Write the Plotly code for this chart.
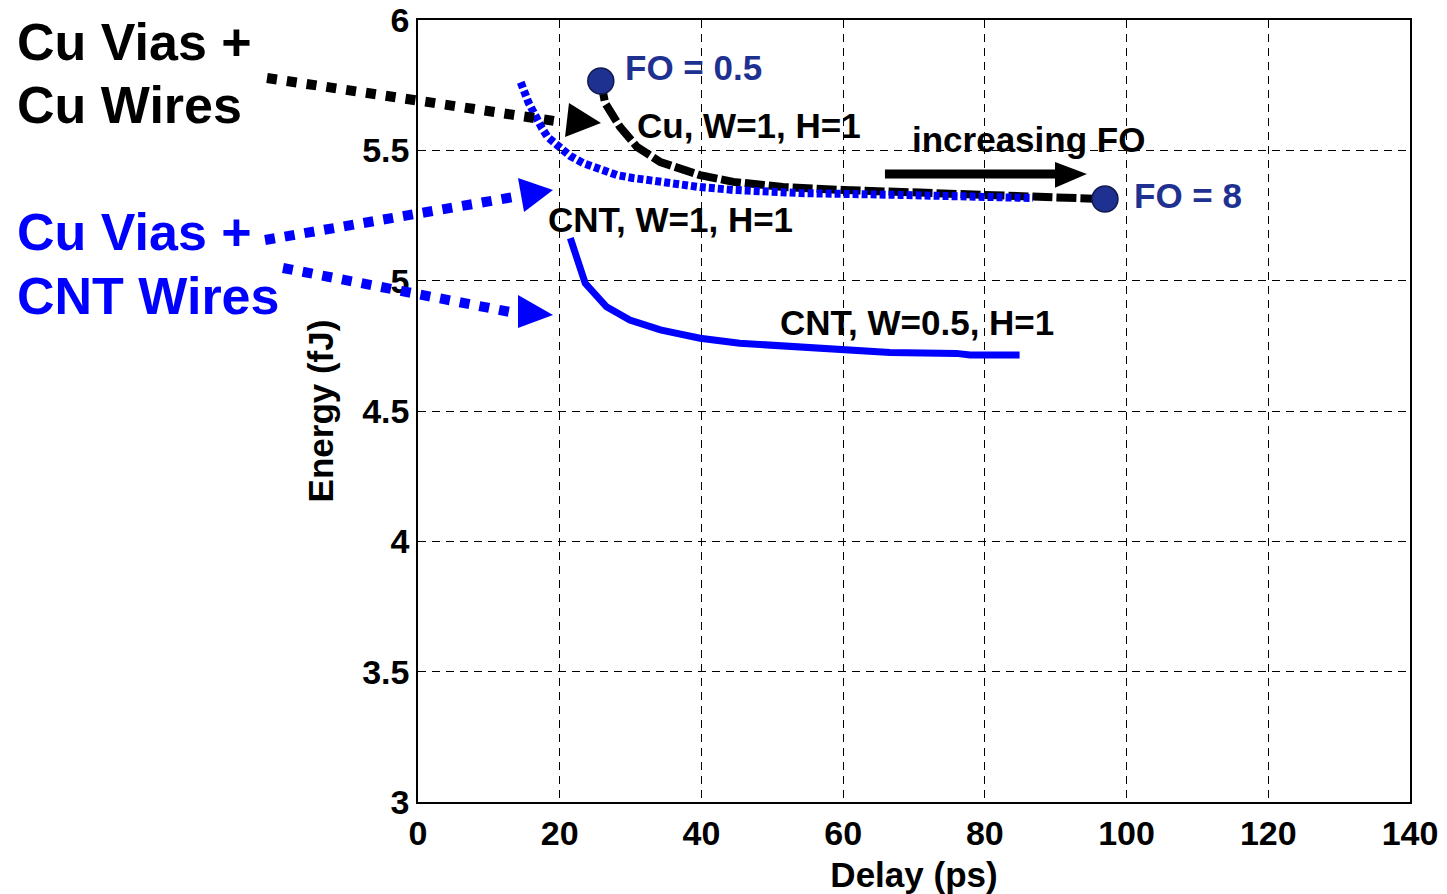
import plotly.graph_objects as go

# Delay (ps) / energy (fJ) sweeps over fan-out
cu_delay = [25.8, 26.4, 28.5, 30.9, 34.2, 39.8, 44.5, 51.5, 60.0, 68.0, 77.5, 86.8, 96.95]
cu_energy = [5.766, 5.682, 5.590, 5.513, 5.455, 5.405, 5.379, 5.359, 5.348, 5.340, 5.329, 5.317, 5.313]

cnt_w1_delay = [14.5, 15.6, 17.5, 18.3, 20.3, 21.5, 23.3, 25.7, 28.1, 30.3, 35.1, 39.8,
                44.5, 49.3, 53.9, 68.0, 86.8]
cnt_w1_energy = [5.761, 5.683, 5.585, 5.551, 5.505, 5.478, 5.451, 5.425, 5.405, 5.394, 5.375,
                 5.359, 5.348, 5.340, 5.336, 5.329, 5.317]

cnt_w05_delay = [21.5, 22.4, 23.6, 26.6, 29.9, 34.2, 39.8, 45.4, 52.5, 59.6, 66.6, 76.0, 77.9, 84.9]
cnt_w05_energy = [5.163, 5.092, 4.990, 4.900, 4.849, 4.811, 4.779, 4.760, 4.747, 4.734,
                  4.724, 4.721, 4.715, 4.715]

# Fan-out end points
fo_labels = ["FO = 0.5", "FO = 8"]
fo_delay = [cu_delay[0], cu_delay[-1]]
fo_energy = [cu_energy[0], cu_energy[-1]]

x_ticks = [0, 20, 40, 60, 80, 100, 120, 140]
y_ticks = [3, 3.5, 4, 4.5, 5, 5.5, 6]

FONT = "Liberation Sans, Arial, sans-serif"
BLUE = "#0000ff"
NAVY = "#1f3190"

fig = go.Figure()

fig.add_trace(go.Scatter(x=cu_delay, y=cu_energy, mode="lines",
                         line=dict(color="black", width=8, dash="20px,4px"),
                         showlegend=False))
fig.add_trace(go.Scatter(x=cnt_w1_delay, y=cnt_w1_energy, mode="lines",
                         line=dict(color=BLUE, width=8, dash="6px,3px"),
                         showlegend=False))
fig.add_trace(go.Scatter(x=cnt_w05_delay, y=cnt_w05_energy, mode="lines",
                         line=dict(color=BLUE, width=7),
                         showlegend=False))
fig.add_trace(go.Scatter(x=fo_delay, y=fo_energy, mode="markers",
                         marker=dict(size=26, color=NAVY, line=dict(color="#101a50", width=1.5)),
                         showlegend=False))

def ann(text, x, y, color="black", size=35, **kw):
    kw.setdefault("xanchor", "center")
    fig.add_annotation(text=f"<b>{text}</b>", x=x, y=y, showarrow=False, yanchor="middle",
                       font=dict(family=FONT, size=size, color=color), **kw)

# Labels inside the plot
ann(fo_labels[0], 38.9, 5.816, NAVY)
ann(fo_labels[1], 108.7, 5.325, NAVY)
ann("Cu, W=1, H=1", 46.7, 5.597)
ann("increasing FO", 86.2, 5.540)
ann("CNT, W=1, H=1", 35.6, 5.233)
ann("CNT, W=0.5, H=1", 70.4, 4.838)

# Group labels to the left of the axes
left_x = -0.4062
for text, y, color in [("Cu Vias +", 0.9719, "black"), ("Cu Wires", 0.8913, "black"),
                       ("Cu Vias +", 0.7289, BLUE), ("CNT Wires", 0.6471, BLUE)]:
    ann(text, left_x, y, color, size=52, xref="paper", yref="paper", xanchor="left")

# "increasing FO" arrow
fig.add_shape(type="line", x0=65.9, y0=5.409, x1=90.6, y1=5.409,
              line=dict(color="black", width=9))
fig.add_shape(type="path", path="M 89.9 5.455 L 94.4 5.409 L 89.9 5.356 Z",
              fillcolor="black", line=dict(color="black", width=0))

# Dotted pointer arrows from the group labels
pointers = [
    ("black", (-0.1522, 0.9258), (0.1442, 0.8696), [(0.1522, 0.8939), (0.1482, 0.8504), (0.1845, 0.8683)]),
    (BLUE, (-0.1542, 0.7187), (0.0968, 0.7737), [(0.1008, 0.7980), (0.1069, 0.7545), (0.1361, 0.7826)]),
    (BLUE, (-0.1361, 0.6829), (0.0927, 0.6266), [(0.1008, 0.6483), (0.1008, 0.6061), (0.1361, 0.6228)]),
]
for color, (xa, ya), (xb, yb), head in pointers:
    fig.add_shape(type="line", xref="paper", yref="paper", x0=xa, y0=ya, x1=xb, y1=yb,
                  line=dict(color=color, width=10, dash="dot"))
    p = "M " + " L ".join(f"{hx} {hy}" for hx, hy in head) + " Z"
    fig.add_shape(type="path", xref="paper", yref="paper", path=p,
                  fillcolor=color, line=dict(color=color, width=0))

axis_common = dict(
    showline=True, linecolor="black", linewidth=1.5, mirror=True,
    showgrid=True, gridcolor="black", gridwidth=1, griddash="8px,6px",
    zeroline=False, ticks="", automargin=False,
    tickfont=dict(family=FONT, size=34, color="black"),
)

fig.update_xaxes(range=[0, 140], tickvals=x_ticks, ticktext=[f"<b>{v}</b>" for v in x_ticks],
                 title=dict(text="<b>Delay (ps)</b>", font=dict(family=FONT, size=35, color="black"),
                            standoff=12),
                 **axis_common)
fig.update_yaxes(range=[3, 6], tickvals=y_ticks,
                 ticktext=[f"<b>{v:g}</b>" for v in y_ticks],
                 title=dict(text="<b>Energy (fJ)</b>", font=dict(family=FONT, size=35, color="black"),
                            standoff=18),
                 **axis_common)

fig.update_layout(
    width=1447, height=894,
    margin=dict(l=418, r=37, t=20, b=92),
    paper_bgcolor="white", plot_bgcolor="white",
    font=dict(family=FONT),
)

fig.write_html("out.html")
